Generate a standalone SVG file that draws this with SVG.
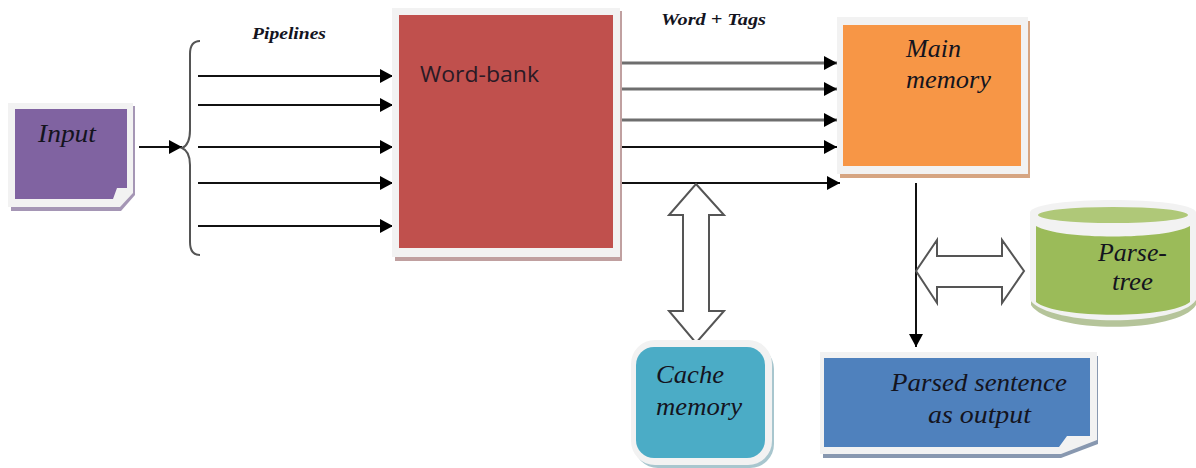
<svg xmlns="http://www.w3.org/2000/svg" width="1196" height="468" viewBox="0 0 1196 468">
<style>
.t{font-family:"Liberation Serif","Times New Roman",serif;font-style:italic;fill:#14141e}
.big{font-size:26px}
.small{font-size:17px;font-weight:bold}
.line{fill:none;stroke:#111;stroke-width:2}
.grey{fill:none;stroke:#6e6e6e;stroke-width:3}
.frame{fill:#f2f2f2}
.blk{stroke:#555;stroke-width:2}
</style>
<defs>
<marker id="a" markerUnits="userSpaceOnUse" markerWidth="13" markerHeight="16" refX="13" refY="7" orient="auto"><path d="M0 0L13 7L0 14Z" fill="#000"/></marker>
</defs>
<rect width="1196" height="468" fill="#fff"/>
<g id="connectors">
<path class="line" d="M139 147H182" marker-end="url(#a)"/>
<path class="blk" fill="none" d="M200 41C193 41 190 45 190 54V130C190 139 187 146 182 148C187 150 190 156 190 165V242C190 251 193 255 200 255"/>
<path class="line" d="M198 76H393" marker-end="url(#a)"/>
<path class="line" d="M198 105H393" marker-end="url(#a)"/>
<path class="line" d="M198 147H393" marker-end="url(#a)"/>
<path class="line" d="M198 183H393" marker-end="url(#a)"/>
<path class="line" d="M198 226H393" marker-end="url(#a)"/>
<path class="grey" d="M621 63H837" marker-end="url(#a)"/>
<path class="grey" d="M621 89H837" marker-end="url(#a)"/>
<path class="grey" d="M621 120H837" marker-end="url(#a)"/>
<path class="line" d="M621 147H837" marker-end="url(#a)"/>
<path class="line" d="M621 183H840" marker-end="url(#a)"/>
<path class="line" d="M916 183V347" marker-end="url(#a)"/>
<path class="blk" fill="#fff" d="M696 184L724 215H709V311H724L696 343L669 311H683V215H669Z"/>
<path class="blk" fill="#fff" d="M916 271L937 240V256H1002V240L1024 271L1002 303V287H937V303Z"/>
</g>
<g id="input">
<path d="M11 106H135V195L121 211H11Z" fill="#a596b5"/>
<path class="frame" d="M8 103H133V193L120 207H8Z"/>
<path d="M15 109H127V188H117L113 199H15Z" fill="#8063a1"/>
<text class="t big" x="38" y="142" textLength="58" lengthAdjust="spacingAndGlyphs">Input</text>
</g>
<g id="word-bank">
<rect x="395" y="11" width="227" height="250" fill="#c0a0a0"/>
<rect x="392" y="8" width="228" height="249" class="frame"/>
<rect x="399" y="15" width="214" height="233" fill="#c0504d"/>
<text x="420" y="82" font-family="'Open Sans','Noto Sans',sans-serif" font-size="22" fill="#2a1a25" textLength="119" lengthAdjust="spacingAndGlyphs">Word-bank</text>
</g>
<g id="main-memory">
<rect x="840" y="21" width="190" height="157" fill="#d6a582"/>
<rect x="837" y="17" width="191" height="157" class="frame"/>
<rect x="843" y="25" width="178" height="141" fill="#f79646"/>
<text class="t big" x="906" y="57" textLength="55" lengthAdjust="spacingAndGlyphs">Main</text>
<text class="t big" x="906" y="88" textLength="85" lengthAdjust="spacingAndGlyphs">memory</text>
</g>
<g id="cache-memory">
<rect x="634" y="345" width="140" height="123" rx="24" fill="#a8c6ce"/>
<rect x="631" y="340" width="141" height="125" rx="24" class="frame"/>
<rect x="636" y="347" width="129" height="111" rx="18" fill="#4bacc6"/>
<text class="t big" x="656" y="383" textLength="68" lengthAdjust="spacingAndGlyphs">Cache</text>
<text class="t big" x="656" y="415" textLength="86" lengthAdjust="spacingAndGlyphs">memory</text>
</g>
<g id="parse-tree">
<path d="M1031 212V305C1050 334 1178 334 1196 305V212Z" fill="#b5c49a"/>
<path class="frame" d="M1030 212C1035 196 1190 196 1196 212V300C1178 327 1050 327 1030 300Z"/>
<path d="M1036 226C1060 240 1166 240 1190 226V302C1170 319 1056 319 1036 302Z" fill="#9bbb59"/>
<ellipse cx="1113" cy="215" rx="75" ry="8" fill="#afc878"/>
<text class="t big" x="1098" y="261" textLength="69" lengthAdjust="spacingAndGlyphs">Parse-</text>
<text class="t big" x="1112" y="290" textLength="41" lengthAdjust="spacingAndGlyphs">tree</text>
</g>
<g id="parsed-sentence">
<path d="M823 356H1098V444L1061 458H823Z" fill="#8898b0"/>
<path class="frame" d="M820 352H1097V440L1061 454H820Z"/>
<path d="M824 358H1090V436H1067L1059 447H824Z" fill="#4f81bd"/>
<text class="t big" x="891" y="391" textLength="176" lengthAdjust="spacingAndGlyphs">Parsed sentence</text>
<text class="t big" x="928" y="423" textLength="103" lengthAdjust="spacingAndGlyphs">as output</text>
</g>
<text class="t small" x="252" y="39" textLength="74" lengthAdjust="spacingAndGlyphs">Pipelines</text>
<text class="t small" x="661" y="25" textLength="105" lengthAdjust="spacingAndGlyphs">Word + Tags</text>
</svg>
